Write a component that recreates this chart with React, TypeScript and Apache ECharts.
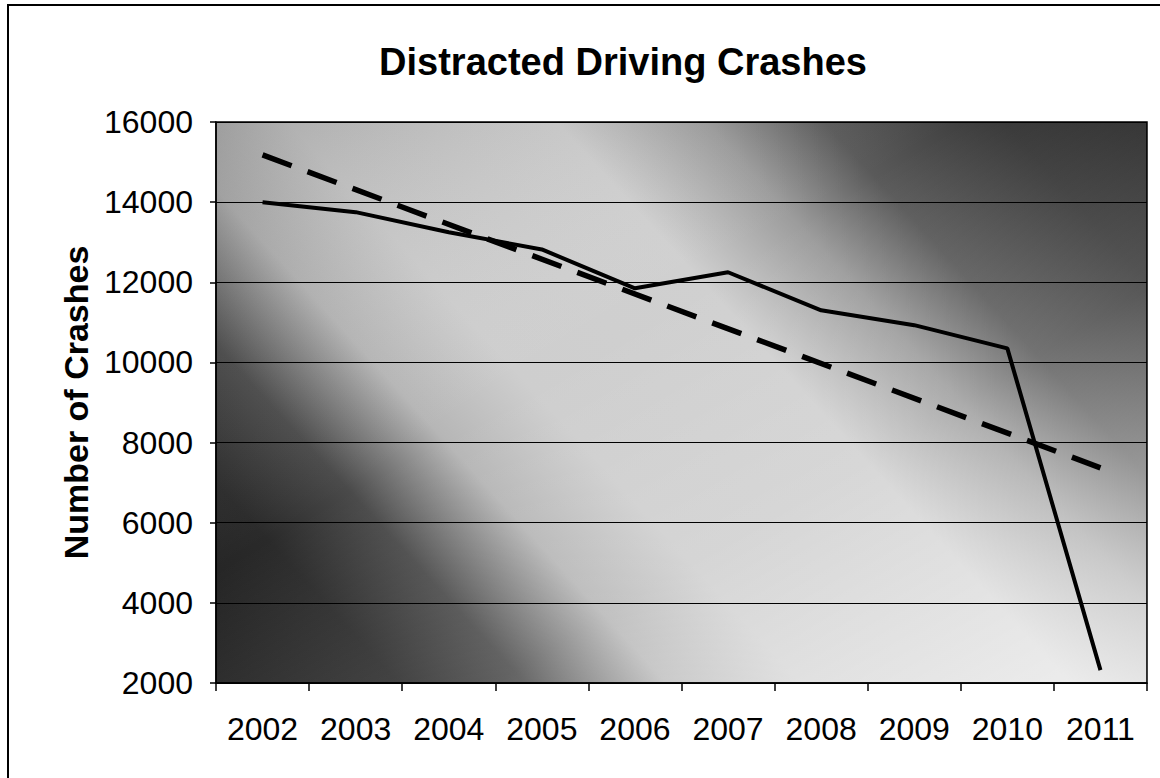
import React, { useEffect, useRef } from "react";
import * as echarts from "echarts";

const years = ["2002", "2003", "2004", "2005", "2006", "2007", "2008", "2009", "2010", "2011"];
const crashes = [14000, 13750, 13250, 12820, 11850, 12250, 11300, 10930, 10350, 2320];
// linear trendline: read at its two ends
const trend = [15180, null, null, null, null, null, null, null, null, 7370];
const yMin = 2000;
const yMax = 16000;
const yStep = 2000;

const FONT = "'Liberation Sans', Arial, Helvetica, sans-serif";

const G = { left: 216, top: 122, width: 931, height: 561 };

export default function App() {
  const ref = useRef<HTMLDivElement>(null);
  useEffect(() => {
    if (!ref.current) return;
    const chart = echarts.init(ref.current, null, { renderer: "svg" });
    chart.setOption({
      animation: false,
      backgroundColor: "#ffffff",
      grid: {
        left: G.left,
        top: G.top,
        width: G.width,
        height: G.height,
        show: true,
        borderColor: "#000",
        borderWidth: 1.5,
        backgroundColor: new echarts.graphic.LinearGradient(
          257,
          773,
          1069,
          31,
          [
            { offset: 0, color: "#1e1e1e" },
            { offset: 0.15, color: "#2a2a2a" },
            { offset: 0.235, color: "#4a4a4a" },
            { offset: 0.33, color: "#b6b6b6" },
            { offset: 0.42, color: "#cecece" },
            { offset: 0.6, color: "#d0d0d0" },
            { offset: 0.7, color: "#9c9c9c" },
            { offset: 0.78, color: "#5a5a5a" },
            { offset: 0.9, color: "#383838" },
            { offset: 1, color: "#2a2a2a" },
          ],
          true
        ),
      },
      graphic: [
        {
          type: "rect",
          z: 1,
          silent: true,
          shape: { x: G.left + 1, y: G.top + 1, width: G.width - 2, height: G.height - 2 },
          style: {
            fill: new echarts.graphic.LinearGradient(0, 0, 1, 1, [
              { offset: 0, color: "rgba(0,0,0,0.18)" },
              { offset: 0.4, color: "rgba(255,255,255,0)" },
              { offset: 0.65, color: "rgba(255,255,255,0.15)" },
              { offset: 1, color: "rgba(255,255,255,0.65)" },
            ]),
          },
        },
        {
          type: "rect",
          z: 10,
          silent: true,
          shape: { x: 8, y: 5, width: 1200, height: 900 },
          style: { fill: "none", stroke: "#000", lineWidth: 2 },
        },
        {
          type: "text",
          z: 10,
          x: 623,
          y: 62,
          style: {
            text: "Distracted Driving Crashes",
            font: `bold 38px ${FONT}`,
            fill: "#000",
            align: "center",
            verticalAlign: "middle",
          },
        },
      ],
      xAxis: {
        type: "category",
        data: years,
        boundaryGap: true,
        z: 5,
        axisLine: { show: true, lineStyle: { color: "#000", width: 1.5 } },
        axisTick: { show: true, alignWithLabel: false, length: 8, lineStyle: { color: "#000", width: 1.5 } },
        axisLabel: { color: "#000", fontSize: 32, fontFamily: FONT, margin: 30 },
        splitLine: { show: false },
      },
      yAxis: {
        type: "value",
        min: yMin,
        max: yMax,
        interval: yStep,
        z: 5,
        name: "Number of Crashes",
        nameLocation: "middle",
        nameRotate: 90,
        nameGap: 62,
        nameTextStyle: { color: "#000", fontSize: 34, fontWeight: "bold", fontFamily: FONT },
        axisLine: { show: true, lineStyle: { color: "#000", width: 1.5 } },
        axisTick: { show: true, length: 6, lineStyle: { color: "#000", width: 1.5 } },
        axisLabel: {
          color: "#000",
          fontSize: 32,
          fontFamily: FONT,
          margin: 23,
          formatter: (v: number) => String(v),
        },
        splitLine: { show: true, lineStyle: { color: "#000", width: 1.2 } },
      },
      series: [
        {
          name: "Crashes",
          type: "line",
          data: crashes,
          z: 6,
          symbol: "none",
          lineStyle: { color: "#000", width: 4 },
        },
        {
          name: "Trend",
          type: "line",
          data: trend,
          connectNulls: true,
          z: 6,
          symbol: "none",
          lineStyle: { color: "#000", width: 5.5, type: [31, 17] },
        },
      ],
    });
    return () => chart.dispose();
  }, []);
  return (
    <div
      ref={ref}
      style={{ position: "fixed", left: 0, top: 0, width: 1160, height: 778 }}
    />
  );
}
